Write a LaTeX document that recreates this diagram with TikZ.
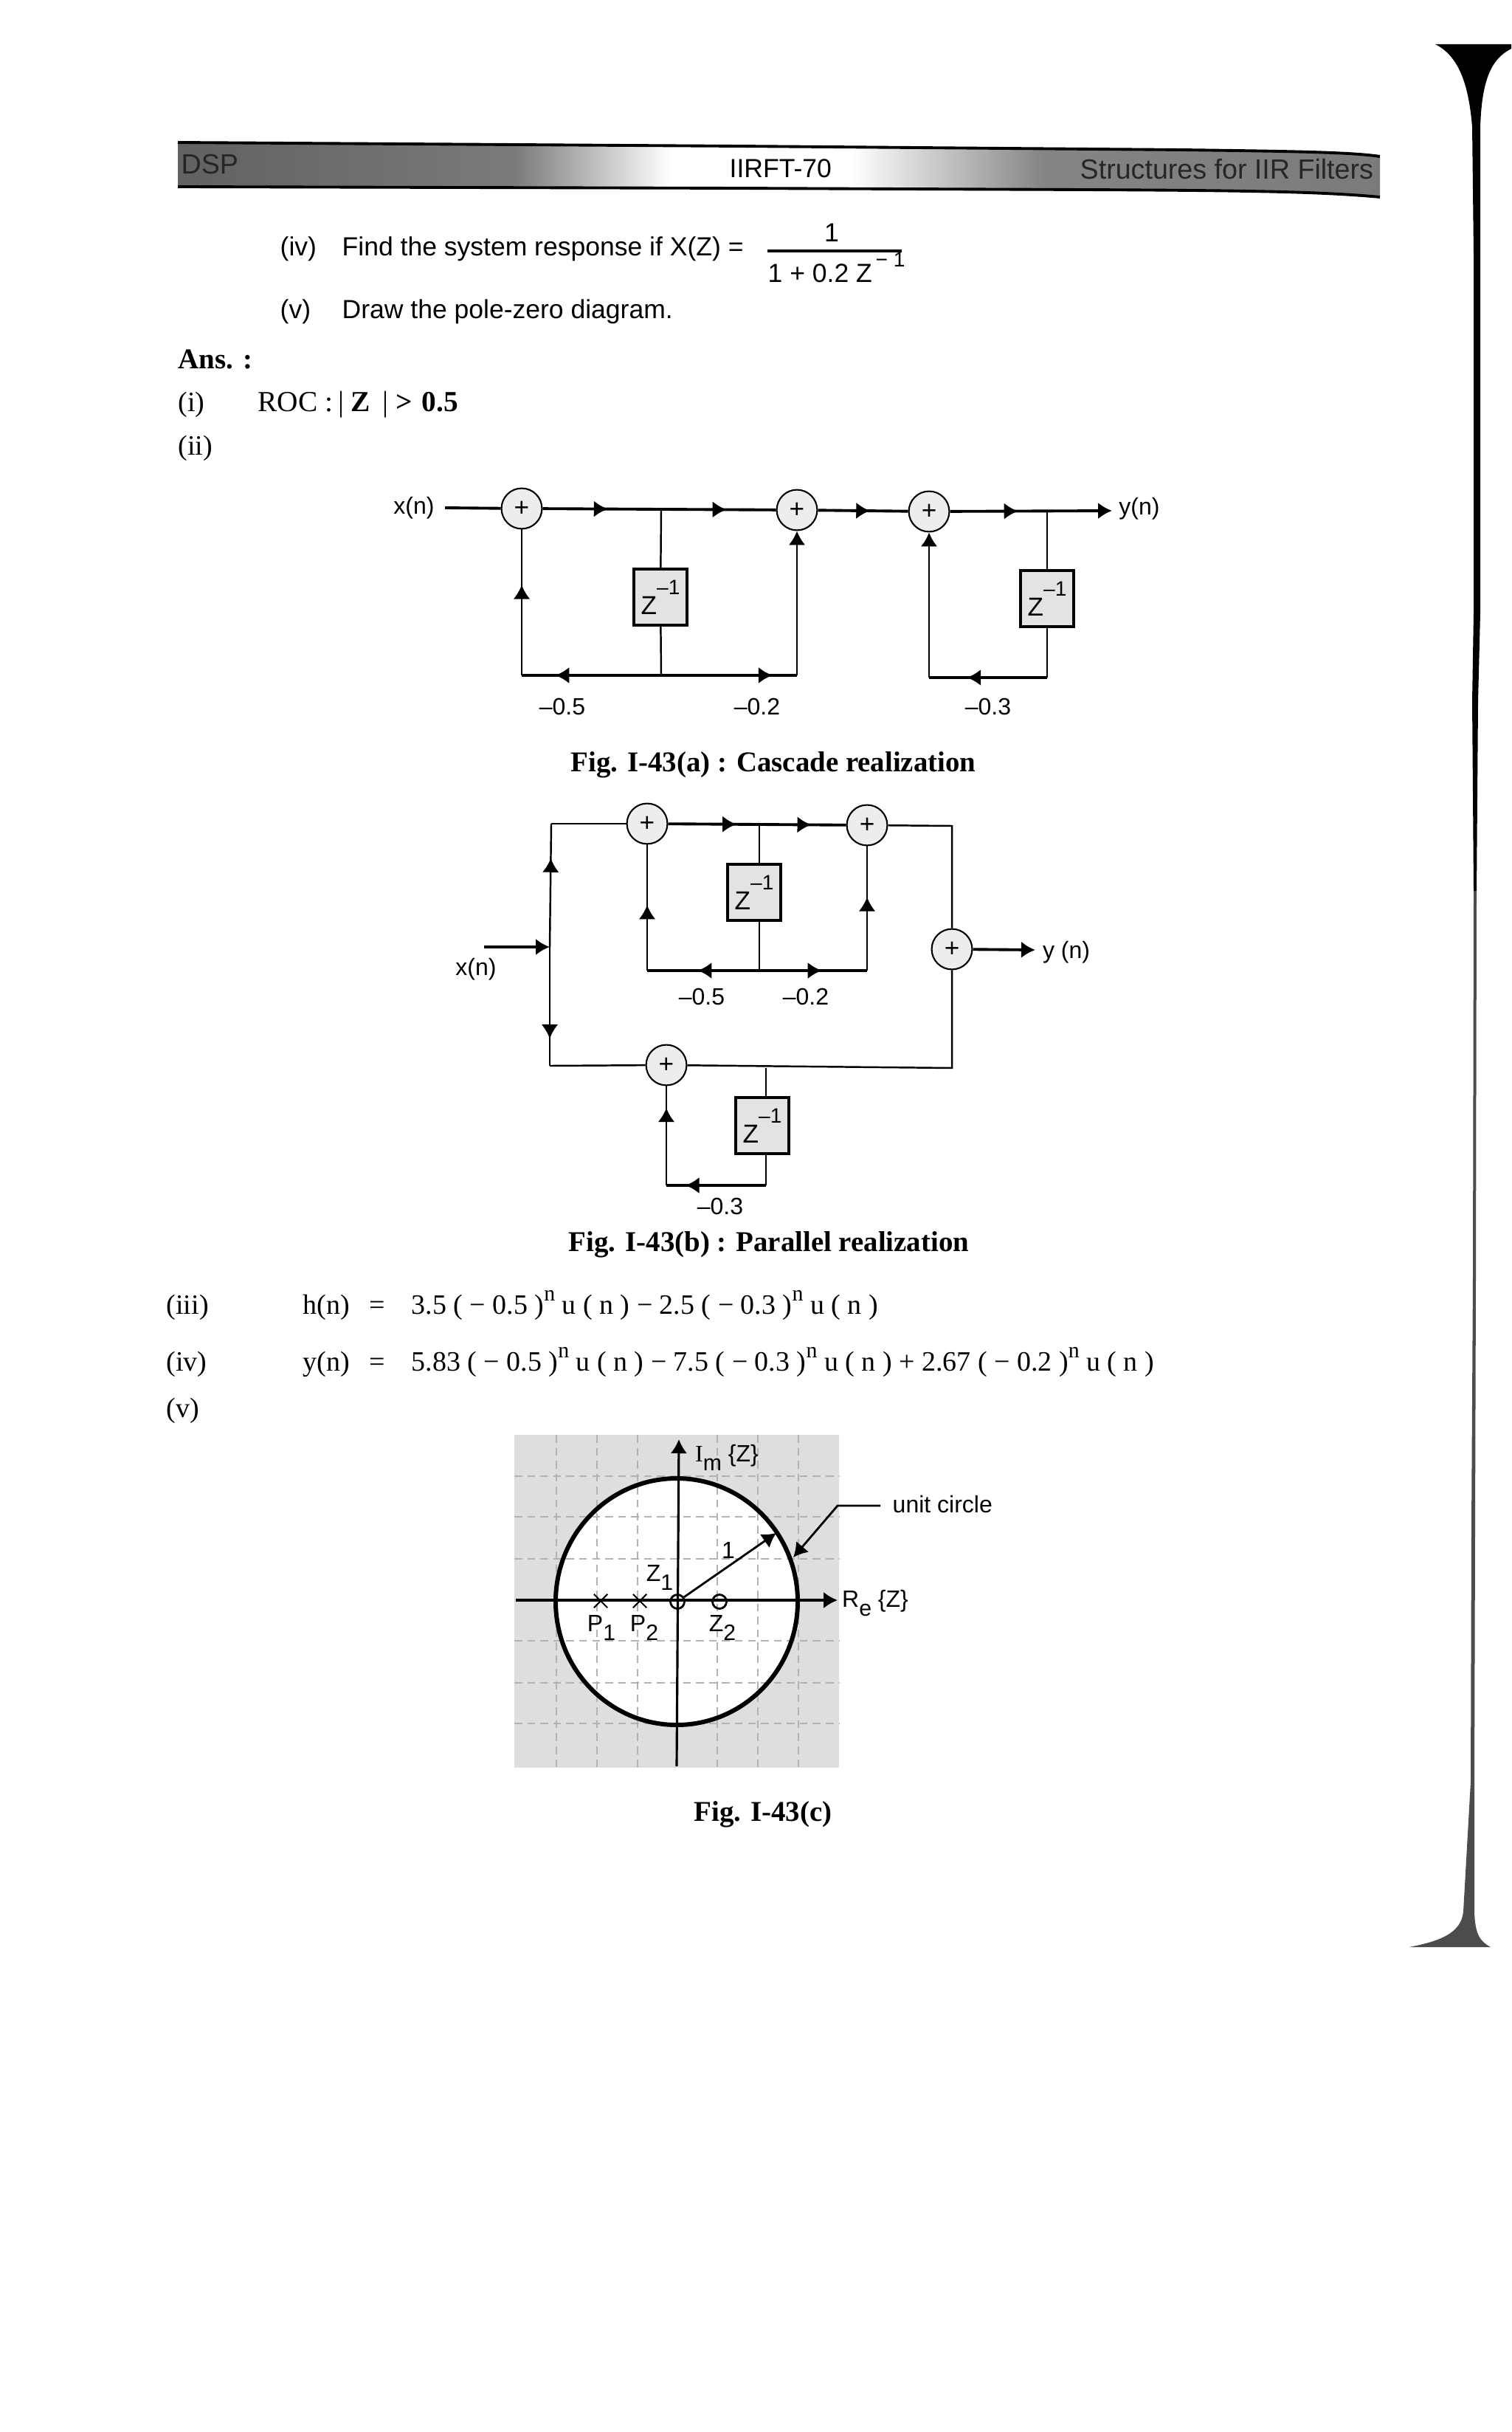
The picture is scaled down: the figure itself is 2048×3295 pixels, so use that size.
\documentclass[tikz,border=0pt]{standalone}
\usepackage{fontspec}
\setmainfont{Liberation Sans}
\newfontfamily\bookface{Liberation Serif}
\usepackage{tikz}
\usetikzlibrary{arrows.meta,decorations.markings,shapes.misc,shapes.geometric}

\newcommand{\hightext}[1]{\raisebox{7.7pt}{\fontsize{8}{8}\selectfont #1}}
\newcommand{\lowtext}[1]{\raisebox{-3.4pt}{\fontsize{8.6}{8.6}\selectfont #1}}
\newcommand{\bookpow}{\raisebox{5pt}{\fontsize{8.5}{8.5}\selectfont n}}

\pgfdeclarehorizontalshading{bandshade}{100bp}{
  color(0bp)=(black!62); color(25bp)=(black!62); color(39bp)=(black!52);
  color(45.5bp)=(white); color(53bp)=(white); color(61bp)=(black!48);
  color(75bp)=(black!52); color(100bp)=(black!52)}

\tikzset{
  sans/.style={font=\fontsize{10.1}{12}\selectfont},
  bandtext/.style={font=\fontsize{10.7}{12}\selectfont},
  tag/.style={font=\fontsize{9.1}{11}\selectfont},
  book/.style={font=\bookface\fontsize{10.8}{13}\selectfont},
  bookbold/.style={font=\bookface\bfseries\fontsize{11.05}{13}\selectfont},
  adder/.style={circle,draw,line width=0.6pt,fill=gray!14,minimum size=15.6pt,font=\fontsize{10}{10}\selectfont},
  delay/.style={rectangle,draw,line width=1.1pt,fill=gray!22,minimum width=20.5pt,minimum height=21.6pt,font=\fontsize{10}{12}\selectfont},
  wire/.style={line width=0.7pt},
  bus/.style={line width=1.1pt},
  midtip/.style={decoration={markings,mark=at position #1 with {\arrow{>}}},postaction={decorate}},
  gridline/.style={gray!60,densely dashed,line width=0.4pt},
  axisline/.style={line width=0.9pt},
  mark0/.style={ellipse,draw,line width=0.8pt,minimum width=5.4pt,minimum height=5.4pt},
  markx/.style={cross out,draw,line width=0.6pt,minimum size=4.6pt}
}

\begin{document}
\begin{tikzpicture}[x=0.01cm,y=-0.01cm,every node/.style={inner sep=0pt},>={Latex[length=5.4pt,width=6.4pt]}]
    \useasboundingbox (0,0) rectangle (2048,3295);
    % header band
    \shade [shading=bandshade] (241,193) -- (1000,198) -- (1600,203) .. controls (1750,205) and (1830,206) .. (1870,212) -- (1870,267) .. controls (1750,256) and (1600,258) .. (1000,255) -- (241,253) -- cycle;
    \draw [line width=1.1pt] (241,193) -- (1000,198) -- (1600,203) .. controls (1750,205) and (1830,206) .. (1870,212);
    \draw [line width=1.1pt] (241,253) -- (1000,255) .. controls (1600,258) and (1750,256) .. (1870,267);
    \node (dsp) [bandtext,anchor=base west,black!85] at (245,236) {DSP};
    \node (page) [sans,anchor=base west] at (988,241) {IIRFT-70};
    \node (chapter) [bandtext,anchor=base west,black!85] at (1463,243) {Structures for IIR Filters};
    % question lines
    \node (q4) [sans,anchor=base west] at (379,347) {(iv)};
    \node (q4t) [sans,anchor=base west] at (463,347) {Find the system response if X(Z) =};
    \node (num) [sans,anchor=base] at (1127,328) {1};
    \node (den) [sans,anchor=base west] at (1040,383) {1 + 0.2 Z\raisebox{6pt}{\fontsize{8}{8}\selectfont\,− 1}};
    \draw [line width=0.9pt] (1040,340) -- (1222,340);
    \node (q5) [sans,anchor=base west] at (379,432) {(v)};
    \node (q5t) [sans,anchor=base west] at (463,432) {Draw the pole-zero diagram.};
    \node (ans) [bookbold,anchor=base west] at (241,500) {Ans. :};
    \node (a1) [book,anchor=base west] at (241,558) {(i)};
    \node (a1t) [book,font=\bookface\fontsize{11.2}{13}\selectfont,anchor=base west] at (349,558) {ROC :\,| \textbf{Z}\, | \textbf{>\,\,0.5}};
    \node (a2) [book,anchor=base west] at (241,617) {(ii)};

    % cascade
    \node (xa) [tag] at (561,688) {x(n)};
    \node (s1) [adder] at (707,689) {+};
    \node (s2) [adder] at (1080,691) {+};
    \node (s3) [adder] at (1259,693) {+};
    \node (ya) [tag] at (1544,689) {y(n)};
    \node (d1) [delay] at (895,809) {Z\hightext{--1}};
    \node (d2) [delay] at (1419,811) {Z\hightext{--1}};
    \coordinate (j1) at (896,690);
    \coordinate (j2) at (1419,692);
    \coordinate (j3) at (896,915);
    \coordinate (c1) at (707,915);
    \coordinate (c2) at (1080,915);
    \coordinate (j4) at (1419,918);
    \coordinate (c3) at (1259,918);
    \coordinate (yatip) at (1507,692);
    \coordinate (xa0) at (603,688);
    \draw [bus] (xa0) -- (s1);
    \draw [bus,midtip=0.55] (s1) -- (j1);
    \draw [bus,midtip=0.57] (j1) -- (s2);
    \draw [bus,midtip=0.58] (s2) -- (s3);
    \draw [bus,midtip=0.42] [->] (s3) -- (yatip);
    \draw [wire] (j1) -- (d1);
    \draw [wire] (d1) -- (j3);
    \draw [wire] (j2) -- (d2);
    \draw [wire] (d2) -- (j4);
    \draw [bus,midtip=0.76] (j3) -- (c1);
    \draw [bus,midtip=0.82] (j3) -- (c2);
    \draw [bus,midtip=0.68] (j4) -- (c3);
    \draw [wire,midtip=0.62] (c1) -- (s1);
    \draw [wire] [->] (c2) -- (s2);
    \draw [wire] [->] (c3) -- (s3);
    \node (l1) [tag] at (762,957) {--0.5};
    \node (l2) [tag] at (1026,957) {--0.2};
    \node (l3) [tag] at (1339,957) {--0.3};
    \node (figa) [bookbold,anchor=base] at (1048,1045) {Fig. I-43(a) : Cascade realization};

    % parallel
    \node (xb) [tag] at (645,1313) {x(n)};
    \coordinate (xb0) at (656,1283);
    \coordinate (xb1) at (745,1283);
    \coordinate (tl) at (747,1116);
    \coordinate (bl) at (745,1444);
    \node (pa) [adder] at (877,1116) {+};
    \node (pb) [adder] at (1175,1118) {+};
    \node (pc) [adder] at (1290,1286) {+};
    \node (pd) [adder] at (903,1443) {+};
    \node (ye) [tag] at (1445,1290) {y (n)};
    \node (d3) [delay] at (1022,1209) {Z\hightext{--1}};
    \node (d4) [delay] at (1033,1525) {Z\hightext{--1}};
    \coordinate (j5) at (1029,1117);
    \coordinate (j6) at (1029,1315);
    \coordinate (c4) at (877,1315);
    \coordinate (c5) at (1175,1315);
    \coordinate (tr) at (1290,1119);
    \coordinate (br) at (1290,1447);
    \coordinate (j7) at (1038,1447);
    \coordinate (j8) at (1038,1606);
    \coordinate (c6) at (903,1606);
    \coordinate (yetip) at (1403,1287);
    \draw [bus] [->] (xb0) -- (xb1);
    \draw [wire,midtip=0.72] (xb1) -- (tl);
    \draw [wire,midtip=0.77] (xb1) -- (bl);
    \draw [wire] (tl) -- (pa);
    \draw [wire] (bl) -- (pd);
    \draw [bus,midtip=0.75] (pa) -- (j5);
    \draw [bus,midtip=0.6] (j5) -- (pb);
    \draw [wire] (pb) -- (tr) -- (pc);
    \draw [wire] (pc) -- (br) -- (pd);
    \draw [wire] (j5) -- (d3.north -| j5);
    \draw [wire] (d3.south -| j6) -- (j6);
    \draw [bus,midtip=0.55] (j6) -- (c4);
    \draw [bus,midtip=0.58] (j6) -- (c5);
    \draw [wire,midtip=0.52] (c4) -- (pa);
    \draw [wire,midtip=0.59] (c5) -- (pb);
    \draw [wire] (j7) -- (d4.north -| j7);
    \draw [wire] (d4.south -| j8) -- (j8);
    \draw [bus,midtip=0.81] (j8) -- (c6);
    \draw [wire,midtip=0.78] (c6) -- (pd);
    \draw [bus] [->] (pc) -- (yetip);
    \node (l4) [tag] at (951,1350) {--0.5};
    \node (l5) [tag] at (1092,1350) {--0.2};
    \node (l6) [tag] at (976,1634) {--0.3};
    \node (figb) [bookbold,anchor=base] at (1042,1695) {Fig. I-43(b) : Parallel realization};

    % answers
    \node (a3) [book,anchor=base west] at (225,1780) {(iii)};
    \node (a3l) [book,anchor=base west] at (410,1780) {h(n)};
    \node (a3e) [book,anchor=base west] at (500,1780) {=};
    \node (a3t) [book,anchor=base west] at (557,1780) {3.5 ( − 0.5 )\bookpow\ u ( n ) − 2.5 ( − 0.3 )\bookpow\ u ( n )};
    \node (a4) [book,anchor=base west] at (225,1857) {(iv)};
    \node (a4l) [book,anchor=base west] at (410,1857) {y(n)};
    \node (a4e) [book,anchor=base west] at (500,1857) {=};
    \node (a4t) [book,anchor=base west] at (557,1857) {5.83 ( − 0.5 )\bookpow\ u ( n ) − 7.5 ( − 0.3 )\bookpow\ u ( n ) + 2.67 ( − 0.2 )\bookpow\ u ( n )};
    \node (a5) [book,anchor=base west] at (225,1920) {(v)};

    % pole-zero plot
    \fill [gray!26] (697,1944) rectangle (1137,2395);
    \fill [white] (917,2170) ellipse [x radius=164,y radius=167];
    \foreach \gx in {754,809,864,972,1027,1082} \draw [gridline] (\gx,1944) -- (\gx,2395);
    \foreach \gy in {2000,2055,2112,2223,2280,2335} \draw [gridline] (697,\gy) -- (1137,\gy);
    \draw [line width=1.7pt] (917,2170) ellipse [x radius=164,y radius=167];
    \coordinate (imtop) at (920,1950);
    \coordinate (imbot) at (917,2393);
    \coordinate (releft) at (699,2168);
    \coordinate (retip) at (1135,2168);
    \coordinate (radtip) at (1052,2077);
    \coordinate (kink) at (1135,2040);
    \coordinate (kink0) at (1193,2040);
    \coordinate (circtip) at (1075,2110);
    \draw [axisline] [->] (imbot) -- (imtop);
    \draw [axisline] [->] (releft) -- (retip);
    \node (z1m) [mark0] at (918,2170) {};
    \node (z2m) [mark0] at (975,2170) {};
    \node (p1m) [markx] at (814,2169) {};
    \node (p2m) [markx] at (867,2169) {};
    \draw [line width=0.8pt] [->] (z1m) -- (radtip);
    \node (ucl) [tag,anchor=west] at (1209,2038) {unit circle};
    \draw [line width=0.8pt] [->] (kink0) -- (kink) -- (circtip);
    \node (imlab) [tag] at (985,1975) {{\bookface I}\lowtext{m} \{Z\}};
    \node (relab) [tag] at (1186,2172) {R\lowtext{e} \{Z\}};
    \node (onelab) [tag] at (987,2100) {1};
    \node (z1lab) [tag] at (894,2137) {Z\lowtext{1}};
    \node (z2lab) [tag] at (979,2205) {Z\lowtext{2}};
    \node (p1lab) [tag] at (815,2205) {P\lowtext{1}};
    \node (p2lab) [tag] at (873,2205) {P\lowtext{2}};
    \node (figc) [bookbold,anchor=base] at (1034,2467) {Fig. I-43(c)};

    % page gutter
    \fill [black] (1945,60) -- (2048,60) -- (2048,66) .. controls (2020,80) and (2008,110) .. (2006,172) -- (2006,830) -- (2003,950) -- (2001,1207) -- (1997,1207) -- (1995,950) -- (1997,830) -- (1997,345) -- (1995,172) .. controls (1990,110) and (1975,75) .. (1945,60) -- cycle;
    \fill [black!70] (2001,1207) -- (2000,1724) -- (1999,2070) -- (1998,2414) -- (1998,2590) .. controls (1999,2620) and (2005,2630) .. (2020,2638) -- (1910,2638) .. controls (1950,2630) and (1980,2620) .. (1983,2590) -- (1993,2414) -- (1994,2070) -- (1996,1724) -- (1997,1207) -- cycle;
\end{tikzpicture}
\end{document}
